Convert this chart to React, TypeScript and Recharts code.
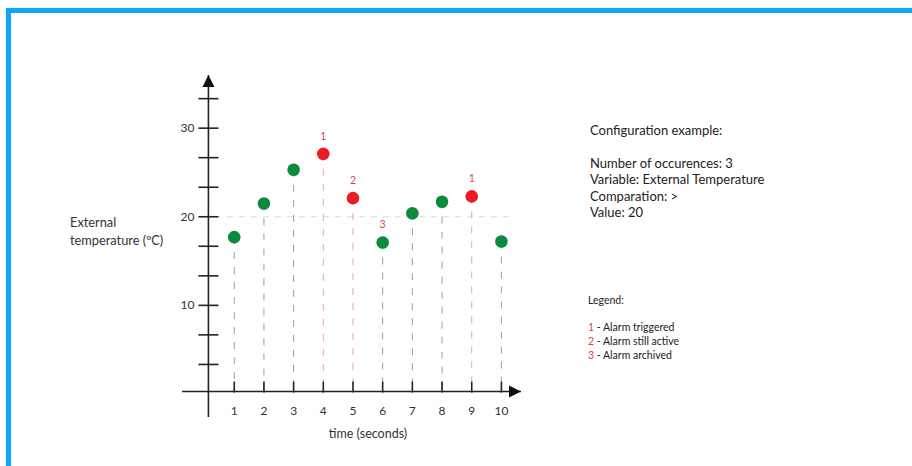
import React from 'react';
import { ComposedChart, Scatter, XAxis, YAxis, ReferenceLine, ReferenceDot } from 'recharts';

// readings from the reference picture
const times = [1, 2, 3, 4, 5, 6, 7, 8, 9, 10];
const temps = [17.7, 21.5, 25.3, 27.1, 22.1, 17.1, 20.4, 21.7, 22.3, 17.2];
const alarm = [false, false, false, true, true, false, false, false, true, false];
const marks = ['', '', '', '1', '2', '3', '', '', '1', ''];

const xTicks = [1, 2, 3, 4, 5, 6, 7, 8, 9, 10];
const yTicks = [3.33, 6.67, 10, 13.33, 16.67, 20, 23.33, 26.67, 30, 33.33];
const yLabels = ['', '', '10', '', '', '20', '', '', '30', ''];

const threshold = 20;
const X_DOMAIN: [number, number] = [-0.76, 10.66];
const Y_DOMAIN: [number, number] = [-2.6, 36];
const AXIS_X = 0.13;
const AXIS_Y = 0.27;

const legendItems = [
  { n: '1', text: 'Alarm triggered' },
  { n: '2', text: 'Alarm still active' },
  { n: '3', text: 'Alarm archived' },
];

const configLines = [
  'Number of occurences: 3',
  'Variable: External Temperature',
  'Comparation: >',
  'Value: 20',
];

const GREEN = '#0b8b3d';
const RED = '#ec1c24';
const FONT = 'Lato, "Open Sans", sans-serif';

const data = times.map((t, i) => ({ x: t, y: temps[i], alarm: alarm[i], mark: marks[i] }));

const PointShape = (props: any) => {
  const { cx, cy, payload } = props;
  return (
    <g>
      <circle cx={cx} cy={cy} r={6.3} fill={payload.alarm ? RED : GREEN} />
      {payload.mark && (
        <text x={cx} y={cy - 14} textAnchor="middle" fontSize={10.5} fill="#d2485a" fontFamily={FONT}>
          {payload.mark}
        </text>
      )}
    </g>
  );
};

const App: React.FC = () => {
  return (
    <div style={{ position: 'absolute', left: 0, top: 0, width: 912, height: 466, background: '#fff', fontFamily: FONT }}>
      <div
        style={{
          position: 'absolute',
          left: 6,
          top: 8,
          width: 906,
          height: 458,
          borderTop: '5px solid #0aa8fc',
          borderLeft: '5px solid #0aa8fc',
          boxSizing: 'border-box',
        }}
      />
      <div style={{ position: 'absolute', left: 0, top: 0 }}>
        <ComposedChart width={912} height={466} margin={{ top: 75, right: 391, bottom: 49, left: 182 }}>
          <XAxis type="number" dataKey="x" domain={X_DOMAIN} hide allowDataOverflow />
          <YAxis type="number" dataKey="y" domain={Y_DOMAIN} hide allowDataOverflow />

          {/* threshold line */}
          <ReferenceLine
            segment={[{ x: 0.35, y: threshold }, { x: 10.3, y: threshold }]}
            stroke="#cfe0d7"
            strokeDasharray="6 6"
            strokeWidth={1}
            ifOverflow="visible"
          />

          {/* drop lines */}
          {data.map((d) => (
            <ReferenceLine
              key={'drop' + d.x}
              segment={[{ x: d.x, y: d.y }, { x: d.x, y: AXIS_Y }]}
              stroke={d.alarm ? '#eaa2b2' : '#86a898'}
              strokeDasharray="7 8"
              strokeWidth={1}
              ifOverflow="visible"
            />
          ))}

          {/* axes */}
          <ReferenceLine
            segment={[{ x: X_DOMAIN[0], y: AXIS_Y }, { x: X_DOMAIN[1], y: AXIS_Y }]}
            stroke="#222"
            strokeWidth={1.6}
            ifOverflow="visible"
          />
          <ReferenceLine
            segment={[{ x: AXIS_X, y: Y_DOMAIN[0] }, { x: AXIS_X, y: Y_DOMAIN[1] }]}
            stroke="#222"
            strokeWidth={1.6}
            ifOverflow="visible"
          />
          <ReferenceDot
            x={X_DOMAIN[1]}
            y={AXIS_Y}
            ifOverflow="visible"
            shape={(p: any) => (
              <polygon points={`${p.cx},${p.cy} ${p.cx - 12},${p.cy - 6} ${p.cx - 12},${p.cy + 6}`} fill="#111" />
            )}
          />
          <ReferenceDot
            x={AXIS_X}
            y={Y_DOMAIN[1]}
            ifOverflow="visible"
            shape={(p: any) => (
              <polygon points={`${p.cx},${p.cy} ${p.cx - 6},${p.cy + 12} ${p.cx + 6},${p.cy + 12}`} fill="#111" />
            )}
          />

          {/* y ticks */}
          {yTicks.map((v, i) => (
            <ReferenceDot
              key={'yt' + i}
              x={AXIS_X}
              y={v}
              ifOverflow="visible"
              shape={(p: any) => (
                <g>
                  <line x1={p.cx - 10} x2={p.cx + 10} y1={p.cy} y2={p.cy} stroke="#222" strokeWidth={1.6} />
                  {yLabels[i] && (
                    <text x={p.cx - 14} y={p.cy + 4} textAnchor="end" fontSize={12} fill="#333" fontFamily={FONT}>
                      {yLabels[i]}
                    </text>
                  )}
                </g>
              )}
            />
          ))}

          {/* x ticks */}
          {xTicks.map((v) => (
            <ReferenceDot
              key={'xt' + v}
              x={v}
              y={AXIS_Y}
              ifOverflow="visible"
              shape={(p: any) => (
                <g>
                  <line x1={p.cx} x2={p.cx} y1={p.cy - 10} y2={p.cy + 1} stroke="#222" strokeWidth={1.6} />
                  <text x={p.cx} y={p.cy + 23} textAnchor="middle" fontSize={12} fill="#333" fontFamily={FONT}>
                    {v}
                  </text>
                </g>
              )}
            />
          ))}

          <Scatter data={data} dataKey="y" shape={PointShape} isAnimationActive={false} />
        </ComposedChart>
      </div>

      {/* axis titles */}
      <div style={{ position: 'absolute', left: 70, top: 213, fontSize: 12.8, lineHeight: '18px', color: '#333' }}>
        External
        <br />
        temperature (ºC)
      </div>
      <div style={{ position: 'absolute', left: 318, top: 426, width: 100, textAlign: 'center', fontSize: 12.5, color: '#333' }}>
        time (seconds)
      </div>

      {/* configuration */}
      <div style={{ position: 'absolute', left: 590, top: 122, fontSize: 13, lineHeight: '16.5px', color: '#222' }}>
        <div>Configuration example:</div>
        <div style={{ height: 16 }} />
        {configLines.map((l) => (
          <div key={l}>{l}</div>
        ))}
      </div>

      {/* legend */}
      <div style={{ position: 'absolute', left: 588, top: 293, fontSize: 10.5, color: '#222' }}>
        <div style={{ lineHeight: '14px' }}>Legend:</div>
        <div style={{ height: 13 }} />
        {legendItems.map((it) => (
          <div key={it.n} style={{ lineHeight: '14px' }}>
            <span style={{ color: '#d2485a' }}>{it.n}</span> - {it.text}
          </div>
        ))}
      </div>
    </div>
  );
};

export default App;
